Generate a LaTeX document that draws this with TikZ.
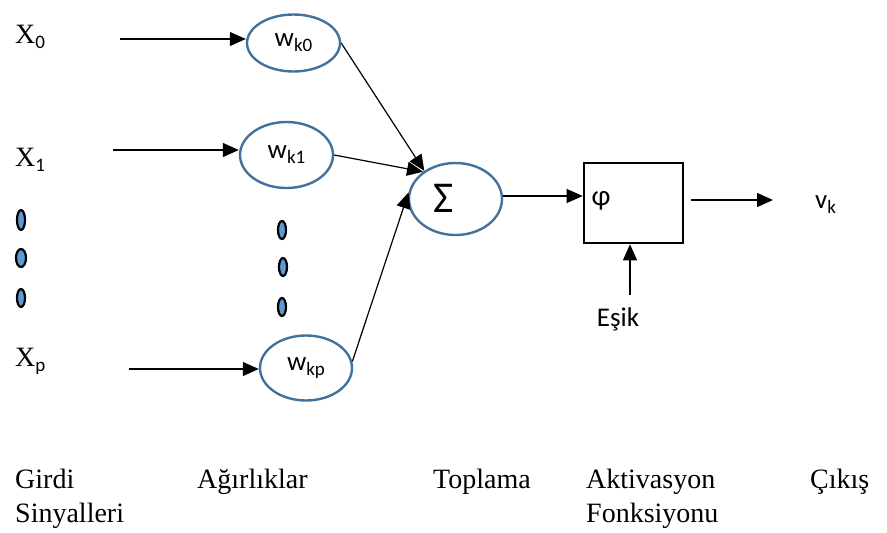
\documentclass[tikz,border=0pt]{standalone}
\usepackage{fontspec}
\setmainfont{Liberation Serif}
\setsansfont{Carlito}
\usetikzlibrary{arrows.meta,calc,shapes.geometric}

\definecolor{ringblue}{HTML}{41719C}
\definecolor{dotblue}{HTML}{5B9BD5}

\tikzset{
  weight/.style={ellipse, draw=ringblue, line width=2.4pt, inner sep=0pt},
  dotmark/.style={ellipse, draw=black, fill=dotblue, line width=2.2pt, inner sep=0pt,
                  minimum width=8pt, minimum height=18pt},
  flow/.style={-{Triangle[length=16pt,width=14pt]}, line width=1.2pt, black},
  serif/.style={inner sep=0pt, anchor=base west, font=\fontsize{28}{34}\selectfont},
  sanslbl/.style={inner sep=0pt, font=\sffamily\fontsize{27}{30}\selectfont},
}
\newcommand{\sansub}[1]{\raisebox{-5pt}{\sffamily\fontsize{19}{19}\selectfont #1}}

\begin{document}
\begin{tikzpicture}[x=1pt, y=-1pt]
\useasboundingbox (0,0) rectangle (887,533);

% input signals
\node[serif] (x0) at (15,43) {X\sansub{0}};
\node[serif] (x1) at (15,166) {X\sansub{1}};
\node[serif] (xp) at (15,366) {X\sansub{p}};

% ellipsis dots under the inputs and under the weights
\node[dotmark, minimum height=20pt] (d1) at (21,220) {};
\node[dotmark, minimum width=10pt] (d2) at (21,258) {};
\node[dotmark] (d3) at (21,298) {};
\node[dotmark] (e1) at (282,230) {};
\node[dotmark] (e2) at (283,267) {};
\node[dotmark] (e3) at (282,307) {};

% weights
\node[weight, minimum width=93pt, minimum height=57pt] (wk0) at (293.5,43)
  {\sffamily\fontsize{27}{27}\selectfont w\sansub{k0}};
\node[weight, minimum width=93pt, minimum height=66pt] (wk1) at (286.5,155)
  {\sffamily\fontsize{27}{27}\selectfont w\sansub{k1}};
\node[weight, minimum width=92pt, minimum height=65pt] (wkp) at (306,368)
  {\sffamily\fontsize{27}{27}\selectfont w\sansub{kp}};

% summing junction
\node[weight, minimum width=93pt, minimum height=72pt] (sum) at (455.5,199) {};
\node[sanslbl, font=\sffamily\fontsize{44}{44}\selectfont] (sigma) at (443.5,198.5) {Σ};

% activation block
\node[draw=black, line width=2.6pt, minimum width=99pt, minimum height=80pt,
      inner sep=0pt] (box) at (633.5,203) {};
\node[sanslbl, font=\sffamily\fontsize{29}{30}\selectfont] (phi) at (601,201) {φ};

% output and threshold labels
\node[sanslbl, anchor=base west] (vk) at (815,208) {v\sansub{k}};
\node[sanslbl, anchor=base] (esik) at (618,326) {Eşik};

% connector end points
\coordinate (in0) at (120,39);
\coordinate (in1) at (113,150);
\coordinate (inp) at (129,369);
\coordinate (outend) at (773,200);
\coordinate (thr) at (630,295);

% arrows
\draw[flow] (in0) -- (in0 -| wk0.west);
\draw[flow] (in1) -- (in1 -| wk1.west);
\draw[flow] (inp) -- (inp -| wkp.west);
\draw[flow] (wk0.east) -- (sum.138);
\draw[flow] (wk1.east) -- (sum.140);
\draw[flow] (wkp.8) -- (sum.172);
\draw[flow] ([yshift=3pt]sum.east) -- ([yshift=3pt]sum.east -| box.west);
\draw[flow] ([xshift=7pt,yshift=3pt]box.east) -- (outend);
\draw[flow] (thr) -- (thr |- box.south);

% stage captions
\node[serif] (c1) at (15,488) {Girdi};
\node[serif] (c1b) at (15,522) {Sinyalleri};
\node[serif] (c2) at (197,488) {Ağırlıklar};
\node[serif] (c3) at (433,488) {Toplama};
\node[serif] (c4) at (586,488) {Aktivasyon};
\node[serif] (c4b) at (586,522) {Fonksiyonu};
\node[serif] (c5) at (810,488) {Çıkış};
\end{tikzpicture}
\end{document}
